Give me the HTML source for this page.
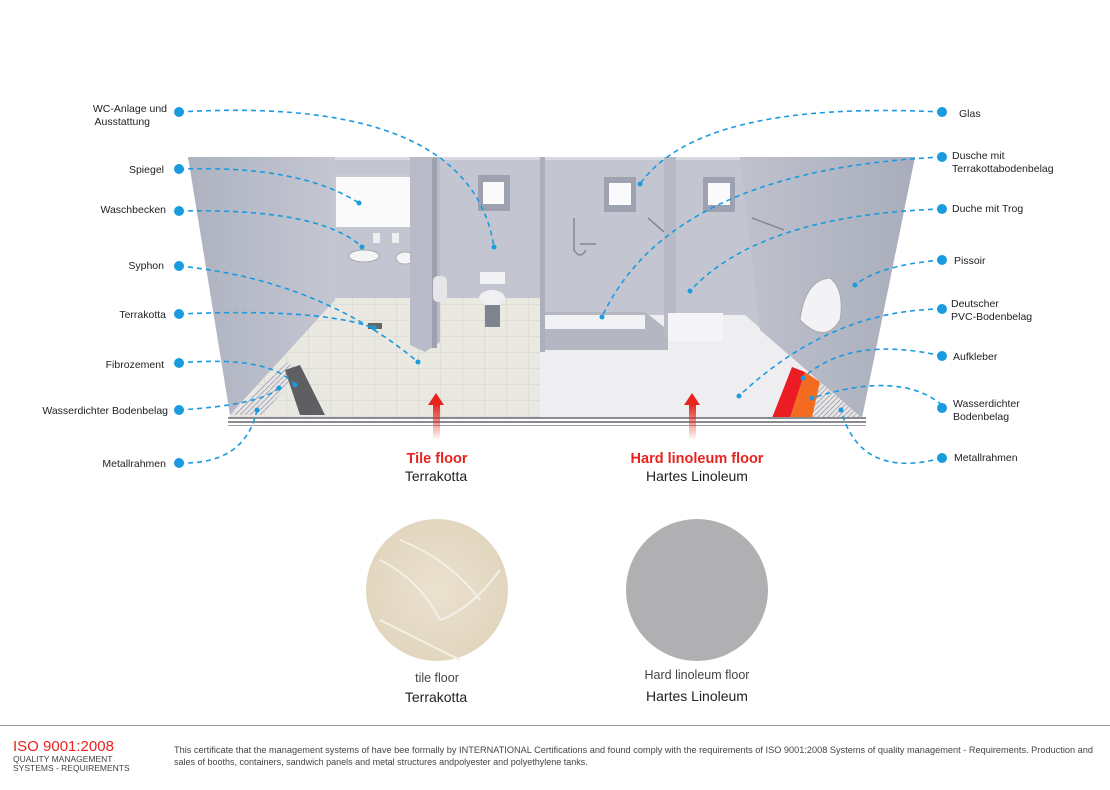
<!DOCTYPE html>
<html><head><meta charset="utf-8"><style>
html,body{margin:0;padding:0;background:#fff;}
body{width:1110px;height:785px;overflow:hidden;font-family:"Liberation Sans",sans-serif;}
</style></head><body>
<svg width="1110" height="785" viewBox="0 0 1110 785" xmlns="http://www.w3.org/2000/svg" font-family="Liberation Sans, sans-serif">
<defs>
<linearGradient id="lw" x1="0" x2="1"><stop offset="0" stop-color="#aeb2c0"/><stop offset="1" stop-color="#c4c7d2"/></linearGradient>
<linearGradient id="rw" x1="0" x2="1"><stop offset="0" stop-color="#bfc2cd"/><stop offset="1" stop-color="#a9adbb"/></linearGradient>
<linearGradient id="arr" x1="0" y1="0" x2="0" y2="1"><stop offset="0" stop-color="#e8231f"/><stop offset="1" stop-color="#e8231f" stop-opacity="0"/></linearGradient>
<radialGradient id="marb" cx="0.5" cy="0.5" r="0.5"><stop offset="0" stop-color="#ebe1cf"/><stop offset="1" stop-color="#e2d6bf"/></radialGradient>
<pattern id="tile" width="22" height="16" patternUnits="userSpaceOnUse"><rect width="22" height="16" fill="#e9e8e1"/><path d="M0 0H22M0 0V16" stroke="#d3d2ca" stroke-width="1"/></pattern>
<pattern id="hatch" width="5" height="5" patternUnits="userSpaceOnUse"><rect width="5" height="5" fill="#e6e6e8"/><path d="M0 5L5 0" stroke="#a9a9ad" stroke-width="1"/></pattern>
</defs>
<rect x="330" y="157" width="440" height="190" fill="#c3c6d1"/>
<rect x="188" y="157" width="727" height="3" fill="#d8dae2"/>
<!-- tile floor -->
<polygon points="228,418 335,298 545,298 545,418" fill="url(#tile)"/>
<!-- left wall -->
<polygon points="188,157 335,157 335,300 230,415" fill="url(#lw)"/>
<!-- linoleum floor -->
<polygon points="540,315 745,315 862,418 540,418" fill="#eeeef0"/>
<!-- right wall -->
<polygon points="740,157 915,157 862,418 760,330" fill="url(#rw)"/>
<polygon points="230,415 288,362 300,372 262,415" fill="url(#hatch)"/>
<polygon points="285,370 300,365 325,415 300,415" fill="#5e5f63"/>
<polygon points="792,367 805,372 790,418 772,418" fill="#ec1c24"/>
<polygon points="805,372 820,382 812,418 790,418" fill="#f26b21"/>
<polygon points="820,382 862,418 812,418" fill="url(#hatch)"/>
<rect x="228" y="417" width="638" height="2" fill="#8a8b90"/>
<rect x="228" y="421" width="638" height="2" fill="#8a8b90"/>
<rect x="228" y="425" width="638" height="1" fill="#a0a1a6"/>
<rect x="334" y="174" width="80" height="54" fill="#c8cad3"/>
<rect x="336" y="177" width="76" height="50" fill="#fafafa"/>
<ellipse cx="364" cy="256" rx="15" ry="6" fill="#f4f4f6" stroke="#999" stroke-width=".7"/>
<ellipse cx="405" cy="258" rx="9" ry="6" fill="#f4f4f6" stroke="#999" stroke-width=".7"/>
<rect x="373" y="233" width="7" height="10" fill="#eee"/><rect x="392" y="233" width="7" height="10" fill="#eee"/>
<polygon points="410,157 440,157 440,342 425,352 410,345" fill="#b9bcc8"/>
<rect x="432" y="158" width="5" height="190" fill="#9ea2b0"/>
<rect x="433" y="276" width="14" height="26" rx="5" fill="#e6e6e8"/>
<rect x="478" y="175" width="32" height="36" fill="#9ea2b0"/><rect x="483" y="182" width="21" height="22" fill="#fafafa"/>
<rect x="480" y="272" width="25" height="12" fill="#f3f3f5"/><ellipse cx="492" cy="298" rx="13" ry="8" fill="#f0f0f2"/>
<rect x="485" y="305" width="15" height="22" fill="#7f8390"/>
<rect x="368" y="323" width="14" height="6" fill="#666"/>
<rect x="540" y="157" width="5" height="195" fill="#acb0bc"/>
<polygon points="545,312 645,312 668,330 668,350 545,350" fill="#b4b7c2"/>
<rect x="545" y="315" width="100" height="14" fill="#f2f2f4"/>
<rect x="664" y="157" width="12" height="180" fill="#b8bbc6"/>
<rect x="668" y="313" width="55" height="28" fill="#f5f5f7"/>
<rect x="604" y="177" width="32" height="35" fill="#9ea2b0"/><rect x="609" y="183" width="22" height="22" fill="#fafafa"/>
<rect x="703" y="177" width="32" height="35" fill="#9ea2b0"/><rect x="708" y="183" width="22" height="22" fill="#fafafa"/>
<path d="M574 218 L574 250 Q580 260 586 250 M580 244 H596 M648 218 L664 232 M752 218 L784 230" stroke="#888" stroke-width="1.5" fill="none"/>
<path d="M800 320 Q805 280 830 278 Q845 290 840 320 Q825 345 800 320Z" fill="#f3f3f5" stroke="#aaa" stroke-width="1"/>
<rect x="433" y="404" width="7" height="36" fill="url(#arr)"/><polygon points="428,405 436,393 444,405" fill="#e8231f"/>
<rect x="689" y="404" width="7" height="36" fill="url(#arr)"/><polygon points="684,405 692,393 700,405" fill="#e8231f"/>
<g fill="none" stroke="#1a9be0" stroke-width="1.6" stroke-dasharray="5,4">
<path d="M179 112 Q470 95 494 247"/>
<path d="M179 169 Q300 165 359 203"/>
<path d="M179 211 Q320 208 362 247"/>
<path d="M179 266 Q320 280 418 362"/>
<path d="M179 314 Q320 308 374 328"/>
<path d="M179 363 Q270 355 295 385"/>
<path d="M179 410 Q260 405 279 388"/>
<path d="M179 463 Q245 465 257 410"/>
<path d="M942 112 Q700 100 640 184"/>
<path d="M942 157 Q670 170 602 317"/>
<path d="M942 209 Q760 215 690 291"/>
<path d="M942 260 Q880 265 855 285"/>
<path d="M942 309 Q830 310 739 396"/>
<path d="M942 356 Q850 335 803 378"/>
<path d="M942 405 Q900 370 812 398"/>
<path d="M942 458 Q860 480 841 410"/>
</g>
<g fill="#1a9be0">
<circle cx="179" cy="112" r="5"/><circle cx="179" cy="169" r="5"/><circle cx="179" cy="211" r="5"/><circle cx="179" cy="266" r="5"/><circle cx="179" cy="314" r="5"/><circle cx="179" cy="363" r="5"/><circle cx="179" cy="410" r="5"/><circle cx="179" cy="463" r="5"/>
<circle cx="942" cy="112" r="5"/><circle cx="942" cy="157" r="5"/><circle cx="942" cy="209" r="5"/><circle cx="942" cy="260" r="5"/><circle cx="942" cy="309" r="5"/><circle cx="942" cy="356" r="5"/><circle cx="942" cy="408" r="5"/><circle cx="942" cy="458" r="5"/>
<circle cx="494" cy="247" r="2.5"/><circle cx="359" cy="203" r="2.5"/><circle cx="362" cy="247" r="2.5"/><circle cx="418" cy="362" r="2.5"/><circle cx="374" cy="328" r="2.5"/><circle cx="295" cy="385" r="2.5"/><circle cx="279" cy="388" r="2.5"/><circle cx="257" cy="410" r="2.5"/>
<circle cx="640" cy="184" r="2.5"/><circle cx="602" cy="317" r="2.5"/><circle cx="690" cy="291" r="2.5"/><circle cx="855" cy="285" r="2.5"/><circle cx="739" cy="396" r="2.5"/><circle cx="803" cy="378" r="2.5"/><circle cx="812" cy="398" r="2.5"/><circle cx="841" cy="410" r="2.5"/>
</g>
<g font-size="10.5" fill="#222" text-anchor="end">
<text x="167" y="112">WC-Anlage und</text><text x="150" y="125">Ausstattung</text>
<text x="164" y="173">Spiegel</text>
<text x="166" y="213">Waschbecken</text>
<text x="164" y="269">Syphon</text>
<text x="166" y="318">Terrakotta</text>
<text x="164" y="368">Fibrozement</text>
<text x="168" y="414">Wasserdichter Bodenbelag</text>
<text x="166" y="467">Metallrahmen</text>
</g>
<g font-size="10.5" fill="#222">
<text x="959" y="117">Glas</text>
<text x="952" y="159">Dusche mit</text><text x="952" y="172">Terrakottabodenbelag</text>
<text x="952" y="212">Duche mit Trog</text>
<text x="954" y="264">Pissoir</text>
<text x="951" y="307">Deutscher</text><text x="951" y="320">PVC-Bodenbelag</text>
<text x="953" y="360">Aufkleber</text>
<text x="953" y="407">Wasserdichter</text><text x="953" y="420">Bodenbelag</text>
<text x="954" y="461">Metallrahmen</text>
</g>
<g text-anchor="middle">
<text x="437" y="463" font-size="14.5" font-weight="bold" fill="#e8231f">Tile floor</text>
<text x="436" y="481" font-size="14" fill="#222">Terrakotta</text>
<text x="697" y="463" font-size="14.5" font-weight="bold" fill="#e8231f">Hard linoleum floor</text>
<text x="697" y="481" font-size="14" fill="#222">Hartes Linoleum</text>
<circle cx="437" cy="590" r="71" fill="url(#marb)"/>
<path d="M380 560 Q420 580 440 620 M400 540 Q450 560 480 600 M440 620 Q470 610 500 570 M380 620 Q420 640 460 660" stroke="#f4efe6" stroke-width="2" fill="none"/>
<circle cx="697" cy="590" r="71" fill="#b0b0b2"/>
<text x="437" y="682" font-size="12.5" fill="#444">tile floor</text>
<text x="436" y="702" font-size="14" fill="#222">Terrakotta</text>
<text x="697" y="679" font-size="12.5" fill="#444">Hard linoleum floor</text>
<text x="697" y="701" font-size="14" fill="#222">Hartes Linoleum</text>
</g>
<rect x="0" y="725" width="1110" height="1" fill="#999"/>
<text x="13" y="751" font-size="15" fill="#e8231f">ISO 9001:2008</text>
<text x="13" y="762" font-size="8.5" fill="#444">QUALITY MANAGEMENT</text>
<text x="13" y="771" font-size="8.5" fill="#444">SYSTEMS - REQUIREMENTS</text>
<text x="174" y="753" font-size="9" fill="#444" textLength="919" lengthAdjust="spacingAndGlyphs">This certificate that the management systems of have bee formally by INTERNATIONAL Certifications and found comply with the requirements of ISO 9001:2008 Systems of quality management - Requirements. Production and</text>
<text x="174" y="765" font-size="9" fill="#444">sales of booths, containers, sandwich panels and metal structures andpolyester and polyethylene tanks.</text>
</svg>
</body></html>
